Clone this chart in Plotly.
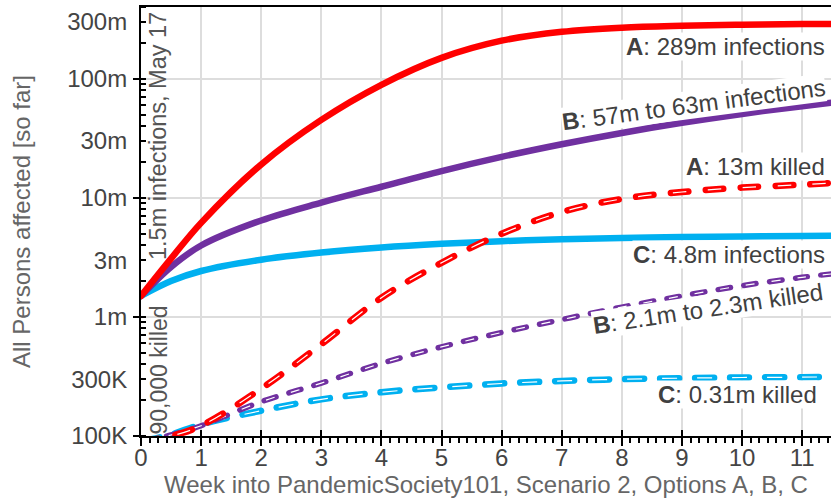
import plotly.graph_objects as go

# Weeks into the scenario
weeks = [0, 0.5, 1, 2, 3, 4, 5, 6, 7, 8, 9, 10, 11, 11.5]

# Cumulative infections per option
inf_a = [1.5e6, 3.09e6, 6.17e6, 19.1e6, 45.2e6, 89.1e6, 150e6, 209e6, 248e6, 269e6, 279e6, 285e6, 288e6, 289e6]
inf_b = [1.5e6, 2.63e6, 3.98e6, 6.46e6, 9.12e6, 12.4e6, 16.8e6, 22.1e6, 28.2e6, 35.1e6, 42.7e6, 50.7e6, 58.9e6, 63.1e6]
inf_c = [1.5e6, 2.0e6, 2.43e6, 3.02e6, 3.47e6, 3.83e6, 4.11e6, 4.33e6, 4.49e6, 4.6e6, 4.69e6, 4.74e6, 4.79e6, 4.8e6]

# Cumulative deaths per option
dead_a = [90e3, 100e3, 122e3, 250e3, 590e3, 1.45e6, 2.85e6, 5.0e6, 7.6e6, 9.8e6, 11.2e6, 12.2e6, 12.9e6, 13.3e6]
dead_b = [90e3, 102e3, 122e3, 194e3, 278e3, 407e3, 560e3, 740e3, 950e3, 1.21e6, 1.5e6, 1.83e6, 2.15e6, 2.3e6]
dead_c = [90e3, 103e3, 125e3, 163e3, 203e3, 233e3, 256e3, 276e3, 290e3, 300e3, 306e3, 310e3, 312e3, 314e3]

# Axis ticks
x_ticks = list(range(12))
y_tick_vals = [1e5, 3e5, 1e6, 3e6, 1e7, 3e7, 1e8, 3e8]
y_tick_text = ["100K", "300K", "1m", "3m", "10m", "30m", "100m", "300m"]
y_decades = [1e5, 1e6, 1e7, 1e8]
y_minor = [m * 10 ** e for e in range(5, 9) for m in range(1, 10)]

RED = "#FF0000"
PURPLE = "#7030A0"
BLUE = "#00B0F0"

X_MAX = 11.48
Y_RANGE = [5, 8.603]

fig = go.Figure()

# Infections: solid lines
for ys, col in [(inf_c, BLUE), (inf_b, PURPLE), (inf_a, RED)]:
    fig.add_trace(go.Scatter(x=weeks, y=ys, mode="lines",
                             line=dict(color=col, width=6.5, shape="spline"),
                             hoverinfo="skip"))

# Deaths: dashed lines with a thin white highlight inside each dash
dash_specs = [
    (dead_c, BLUE, 6.5, "19px,16px", "0px,2px,15px,18px"),
    (dead_b, PURPLE, 5.5, "12.5px,13.5px", "0px,2px,9px,15px"),
    (dead_a, RED, 6.5, "17.5px,17.5px", "0px,2px,13.5px,19.5px"),
]
for ys, col, w, dash, hl in dash_specs:
    fig.add_trace(go.Scatter(x=weeks, y=ys, mode="lines",
                             line=dict(color=col, width=w, dash=dash, shape="spline"),
                             hoverinfo="skip"))
    fig.add_trace(go.Scatter(x=weeks, y=ys, mode="lines",
                             line=dict(color="white", width=1.2, dash=hl, shape="spline"),
                             hoverinfo="skip"))

# Empty trace so the overlay axes (crossing ticks, decade grid) get drawn
fig.add_trace(go.Scatter(x=[], y=[], xaxis="x2", yaxis="y2", hoverinfo="skip"))

L, R, T, B = 141, 831, 7, 436


def px(xp):
    return (xp - L) / (R - L)


def py(yp):
    return (B - yp) / (B - T)


TXT = "#404040"
ann = []
right_labels = [
    ("<b>A</b>: 289m infections", 826, 47),
    ("<b>A</b>: 13m killed", 826, 166),
    ("<b>C</b>: 4.8m infections", 826, 255),
    ("<b>C</b>: 0.31m killed", 818, 394),
]
for text, xr, yc in right_labels:
    ann.append(dict(text=text, x=px(xr), y=py(yc), xref="paper", yref="paper",
                    xanchor="right", yanchor="middle", showarrow=False,
                    bgcolor="white", borderpad=0,
                    font=dict(size=24, color=TXT)))

slanted = [
    ("<b>B</b>: 57m to 63m infections", 693, 104, -7.5),
    ("<b>B</b>: 2.1m to 2.3m killed", 708, 309, -8.5),
]
for text, xc, yc, ang in slanted:
    ann.append(dict(text=text, x=px(xc), y=py(yc), xref="paper", yref="paper",
                    xanchor="center", yanchor="middle", textangle=ang,
                    showarrow=False, bgcolor="white", borderpad=0,
                    font=dict(size=24, color=TXT)))

# Starting point, written up the left edge
ann.append(dict(text="90,000 killed", x=px(158), y=py(436), xref="paper", yref="paper",
                xanchor="center", yanchor="bottom", textangle=-90, showarrow=False,
                borderpad=0, font=dict(size=23, color="#555555")))
ann.append(dict(text="1.5m infections, May 17", x=px(158), y=py(11), xref="paper",
                yref="paper", xanchor="center", yanchor="top", textangle=-90,
                showarrow=False, borderpad=0, font=dict(size=23.5, color="#555555")))

fig.update_layout(
    width=831, height=498,
    margin=dict(l=L, r=831 - R, t=T, b=498 - B),
    plot_bgcolor="white", paper_bgcolor="white", showlegend=False,
    font=dict(family="Liberation Sans, Arial, sans-serif", size=24, color=TXT),
    annotations=ann,
    xaxis=dict(
        range=[0, X_MAX], tickmode="array", tickvals=x_ticks,
        ticks="outside", ticklen=8, tickwidth=1.5, tickcolor="black",
        ticklabelstandoff=-9,
        showline=True, linecolor="black", linewidth=2, mirror=True,
        showgrid=True, gridcolor="#dddddd", gridwidth=1.5, zeroline=False,
        tickfont=dict(size=24, color="#444444"),
        minor=dict(dtick=1 / 7, tick0=0, ticks="outside", ticklen=5,
                   tickwidth=1.5, tickcolor="black", showgrid=False),
        title=dict(text="Week into PandemicSociety101, Scenario 2, Options A, B, C",
                   font=dict(size=24, color="#666666"), standoff=8),
    ),
    yaxis=dict(
        type="log", range=Y_RANGE, tickmode="array",
        tickvals=y_tick_vals, ticktext=y_tick_text, ticks="",
        ticklabelstandoff=7,
        showline=True, linecolor="black", linewidth=2, showgrid=False,
        zeroline=False, tickfont=dict(size=24, color="#444444"),
        minor=dict(tickmode="array", tickvals=y_minor, ticks="inside", ticklen=5,
                   tickwidth=1.5, tickcolor="black", showgrid=False),
        title=dict(text="All Persons affected [so far]",
                   font=dict(size=24, color="#666666"), standoff=30),
    ),
    xaxis2=dict(
        overlaying="x", anchor="y", range=[0, X_MAX], tickmode="array",
        tickvals=x_ticks, ticks="inside", ticklen=6, tickwidth=1.5,
        tickcolor="black", showticklabels=False, showgrid=False, zeroline=False,
    ),
    yaxis2=dict(
        overlaying="y", anchor="x", side="left", type="log", range=Y_RANGE,
        tickmode="array", tickvals=y_decades, ticks="outside", ticklen=7,
        tickwidth=1.5, tickcolor="black", showticklabels=False,
        showgrid=True, gridcolor="#dddddd", gridwidth=1.5, zeroline=False,
    ),
)

round_caps = """
document.querySelectorAll('path.js-line').forEach(function (p) {
  if (parseFloat(p.style.strokeWidth) > 2) { p.style.strokeLinecap = 'round'; }
});
"""

fig.write_html("out.html", post_script=round_caps)
